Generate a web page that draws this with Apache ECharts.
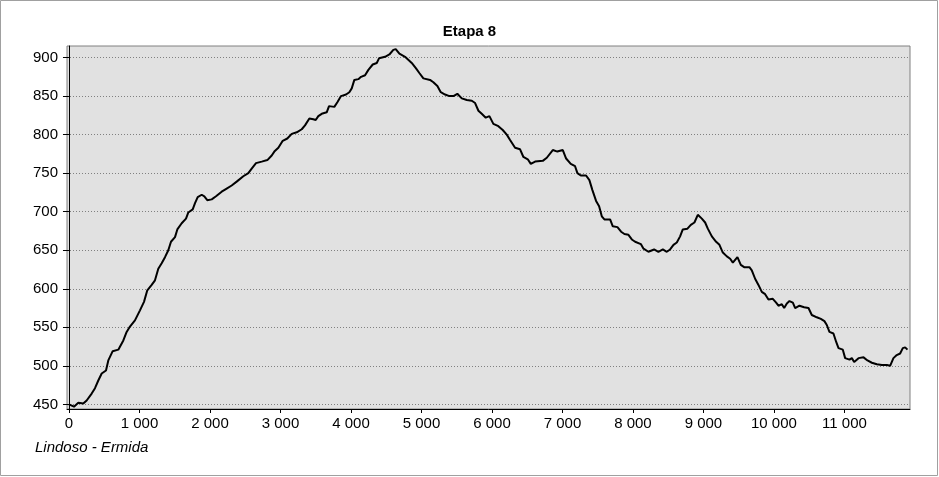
<!DOCTYPE html>
<html>
<head>
<meta charset="utf-8">
<script src="https://cdn.jsdelivr.net/npm/echarts@6/dist/echarts.min.js"></script>
<style>
html,body{margin:0;padding:0;background:#fff;}
#c{width:939px;height:477px;}
</style>
</head>
<body>
<div id="c"></div>
<script>
const titleText = 'Etapa 8';
const subtitleText = 'Lindoso - Ermida';
const xTicks = [0,1000,2000,3000,4000,5000,6000,7000,8000,9000,10000,11000];
const yTicks = [450,500,550,600,650,700,750,800,850,900];
const distance = [0,71,132,203,251,322,369,416,464,525,558,620,700,771,818,865,936,1007,1064,1111,1173,1220,1267,1315,1362,1409,1447,1504,1537,1599,1660,1693,1755,1788,1826,1883,1920,1962,2025,2086,2166,2237,2308,2379,2473,2544,2592,2653,2734,2814,2876,2913,2970,3032,3097,3160,3231,3302,3348,3410,3466,3500,3537,3585,3656,3689,3764,3807,3859,3930,3977,4011,4048,4105,4143,4200,4247,4309,4366,4398,4484,4545,4601,4635,4687,4767,4862,4923,4970,5027,5122,5169,5226,5274,5335,5396,5453,5509,5572,5643,5714,5761,5808,5855,5912,5964,6020,6091,6153,6210,6257,6328,6399,6446,6508,6551,6612,6721,6778,6863,6928,7005,7052,7118,7179,7212,7260,7335,7382,7425,7477,7520,7558,7595,7676,7714,7780,7832,7879,7936,7984,8031,8112,8150,8219,8300,8361,8424,8480,8527,8575,8622,8669,8707,8773,8821,8872,8920,8977,9024,9062,9119,9180,9227,9275,9332,9379,9417,9482,9530,9577,9652,9686,9733,9780,9828,9875,9922,9984,10031,10064,10112,10145,10183,10220,10268,10301,10362,10428,10490,10537,10608,10665,10716,10750,10787,10844,10883,10916,10977,11010,11072,11105,11138,11200,11271,11327,11389,11460,11531,11602,11648,11695,11742,11790,11828,11861,11894];
const elevation = [450,447,452,451,455,464,471,481,490,494,507,519,521,533,544,551,559,572,583,598,605,611,626,633,641,650,661,667,677,685,691,699,703,711,719,722,720,715,716,720,726,730,734,739,746,750,756,763,765,767,773,778,783,792,795,801,803,807,812,821,820,819,824,827,829,837,836,842,850,852,855,860,871,872,875,877,884,891,893,899,901,904,910,911,905,901,893,886,880,873,871,868,863,855,852,850,850,853,847,845,844,841,831,827,822,824,814,811,806,800,793,783,781,771,768,762,765,766,770,780,778,780,769,762,759,750,747,747,741,728,714,707,694,690,690,681,680,674,671,670,664,661,658,652,648,651,648,651,648,651,657,660,668,677,678,683,686,696,691,686,678,668,661,657,647,642,639,634,641,631,628,628,624,613,605,596,593,586,587,582,578,580,575,581,584,582,575,578,576,575,566,563,561,558,553,544,542,531,523,521,510,508,510,505,510,511,507,504,502,501,501,500,510,514,516,523,524,521];

const seriesData = distance.map((d, i) => [d, elevation[i]]);
const fmt = v => {
  const s = String(v);
  return s.length > 3 ? s.slice(0, s.length - 3) + ' ' + s.slice(-3) : s;
};
const FONT = '"Liberation Sans", Arial, sans-serif';

const chart = echarts.init(document.getElementById('c'), null, {renderer: 'canvas'});
chart.setOption({
  animation: false,
  backgroundColor: '#ffffff',
  title: {
    text: titleText,
    left: 'center',
    top: 19,
    textStyle: {fontFamily: FONT, fontSize: 15, fontWeight: 'bold', color: '#000'}
  },
  graphic: [
    {type: 'rect', shape: {x: 0.5, y: 0.5, width: 937, height: 475}, style: {fill: 'none', stroke: '#a0a0a0', lineWidth: 1}, z: 100},
    {type: 'text', left: 35, top: 440, style: {text: subtitleText, fontFamily: FONT, fontSize: 15, fontStyle: 'italic', fill: '#000'}}
  ],
  grid: {
    left: 67, right: 29, top: 46, bottom: 68,
    show: true, backgroundColor: '#e1e1e1', borderColor: '#808080', borderWidth: 1
  },
  xAxis: {
    type: 'value', min: -28, max: 11930,
    axisLine: {show: true, onZero: false, lineStyle: {color: '#000', width: 1}},
    axisTick: {show: true, length: 4, customValues: xTicks, lineStyle: {color: '#000'}},
    axisLabel: {customValues: xTicks, formatter: fmt, margin: 7, color: '#000', fontFamily: FONT, fontSize: 15},
    splitLine: {show: false}
  },
  yAxis: {
    type: 'value', min: 444, max: 915,
    axisLine: {show: true, lineStyle: {color: '#000', width: 1}},
    axisTick: {show: true, length: 6, customValues: yTicks, lineStyle: {color: '#000'}},
    axisLabel: {customValues: yTicks, margin: 9, color: '#000', fontFamily: FONT, fontSize: 15},
    splitLine: {show: true, lineStyle: {color: '#808080', type: [1, 2], width: 1}}
  },
  series: [{
    type: 'line',
    data: seriesData,
    showSymbol: false,
    symbol: 'none',
    lineStyle: {color: '#000', width: 2},
    z: 5
  }]
});
</script>
</body>
</html>
